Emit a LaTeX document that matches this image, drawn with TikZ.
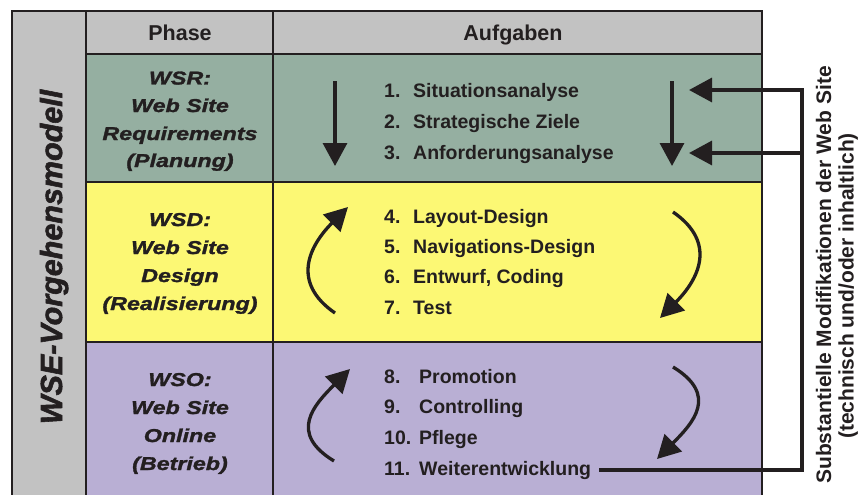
\documentclass[tikz,border=0pt]{standalone}
\usepackage{fontspec}
\setmainfont{Liberation Sans}
\newfontfamily\widefont[FakeStretch=1.25, FakeBold=1.6]{Liberation Sans}
\newfontfamily\wsefont[FakeBold=1.8]{Liberation Sans}
\usetikzlibrary{arrows.meta}
\definecolor{ink}{HTML}{231F20}
\definecolor{hdrgray}{HTML}{C2C2C2}
\definecolor{wsrcol}{HTML}{95AFA1}
\definecolor{wsdcol}{HTML}{FCF874}
\definecolor{wsocol}{HTML}{B9AFD4}
\tikzset{
  tbl/.style={draw=ink, line width=2.7pt},
  hdr/.style={anchor=base, inner sep=0pt, text=ink, font=\bfseries\fontsize{21.5}{25}\selectfont},
  phasetxt/.style={anchor=base, inner sep=0pt, text=ink, font=\widefont\bfseries\itshape\fontsize{18.6}{22}\selectfont},
  itemnum/.style={anchor=base west, inner sep=0pt, text=ink, font=\bfseries\fontsize{19.5}{23}\selectfont},
  itemtxt/.style={anchor=base west, inner sep=0pt, text=ink, font=\bfseries\fontsize{19.5}{23}\selectfont},
  sidetxt/.style={anchor=base, inner sep=0pt, rotate=90, text=ink, font=\bfseries\fontsize{21}{25}\selectfont},
  wsetxt/.style={anchor=base, inner sep=0pt, rotate=90, text=ink, font=\wsefont\bfseries\itshape\fontsize{30.5}{35}\selectfont},
  flow/.style={draw=ink, line width=3.3pt, line join=miter, -{Triangle[length=23pt,width=24pt]}},
}
\begin{document}
\begin{tikzpicture}[x=1pt,y=-1pt]
\useasboundingbox (0,0) rectangle (859,495);
\begin{scope}
\clip (0,0) rectangle (859,495);
% cell fills
\fill[hdrgray] (12,11) rectangle (86,505);
\fill[hdrgray] (86,11) rectangle (762,54);
\fill[wsrcol] (86,54) rectangle (762,182);
\fill[wsdcol] (86,182) rectangle (762,342);
\fill[wsocol] (86,342) rectangle (762,505);
% grid
\draw[tbl] (12,505) -- (12,11) -- (762,11) -- (762,505);
\draw[tbl] (86,11) -- (86,505);
\draw[tbl] (273,11) -- (273,505);
\draw[tbl] (86,54) -- (762,54);
\draw[tbl] (86,182) -- (762,182);
\draw[tbl] (86,342) -- (762,342);
\end{scope}

% headers
\node[hdr] (hphase) at (180,40.5) {Phase};
\node[hdr] (hauf) at (513,40.5) {Aufgaben};

% left vertical title
\node[wsetxt] (wse) at (62,257) {WSE-Vorgehensmodell};

% phase texts
\node[phasetxt] (pr1) at (180,84.5) {WSR:};
\node[phasetxt] (pr2) at (180,112) {Web Site};
\node[phasetxt] (pr3) at (180,140) {Requirements};
\node[phasetxt] (pr4) at (180,167) {(Planung)};

\node[phasetxt] (pd1) at (180,226) {WSD:};
\node[phasetxt] (pd2) at (180,254) {Web Site};
\node[phasetxt] (pd3) at (180,282) {Design};
\node[phasetxt] (pd4) at (180,310) {(Realisierung)};

\node[phasetxt] (po1) at (180,386) {WSO:};
\node[phasetxt] (po2) at (180,414) {Web Site};
\node[phasetxt] (po3) at (180,442) {Online};
\node[phasetxt] (po4) at (180,470) {(Betrieb)};

% task items
\node[itemnum] (n1) at (384,97) {1.};
\node[itemtxt] (t1) at (413,97) {Situationsanalyse};
\node[itemnum] (n2) at (384,128) {2.};
\node[itemtxt] (t2) at (413,128) {Strategische Ziele};
\node[itemnum] (n3) at (384,159) {3.};
\node[itemtxt] (t3) at (413,159) {Anforderungsanalyse};

\node[itemnum] (n4) at (384,223) {4.};
\node[itemtxt] (t4) at (413,223) {Layout-Design};
\node[itemnum] (n5) at (384,253) {5.};
\node[itemtxt] (t5) at (413,253) {Navigations-Design};
\node[itemnum] (n6) at (384,283) {6.};
\node[itemtxt] (t6) at (413,283) {Entwurf, Coding};
\node[itemnum] (n7) at (384,314) {7.};
\node[itemtxt] (t7) at (413,314) {Test};

\node[itemnum] (n8) at (384,383) {8.};
\node[itemtxt] (t8) at (419,383) {Promotion};
\node[itemnum] (n9) at (384,413.5) {9.};
\node[itemtxt] (t9) at (419,413.5) {Controlling};
\node[itemnum] (n10) at (384,444) {10.};
\node[itemtxt] (t10) at (419,444) {Pflege};
\node[itemnum] (n11) at (384,475) {11.};
\node[itemtxt] (t11) at (419,475) {Weiterentwicklung};

% straight down arrows (WSR)
\draw[flow] (335,81) -- (335,166);
\draw[flow] (672,81) -- (672,166);

% curved arrows (WSD)
\draw[flow] (335,313) .. controls (290,282) and (310,245) .. (348,207);
\draw[flow] (673,212) .. controls (718,243) and (698,280) .. (660,318);

% curved arrows (WSO)
\draw[flow] (334,461) .. controls (288,433) and (314,405) .. (350,369);
\draw[flow] (673,367) .. controls (719,395) and (693,423) .. (657,459);

% feedback loop
\coordinate (fbA) at (802,90);
\coordinate (fbB) at (802,153);
\coordinate (tipA) at (689,90);
\coordinate (tipB) at (689,153);
\draw[flow] ([xshift=8pt]t11.east) -| (fbA) -- (tipA);
\draw[flow] (fbB) -- (tipB);

% side text
\node[sidetxt] (side1) at (831,275) {Substantielle Modifikationen der Web Site};
\node[sidetxt] (side2) at (853.5,286) {(technisch und/oder inhaltlich)};
\end{tikzpicture}
\end{document}
